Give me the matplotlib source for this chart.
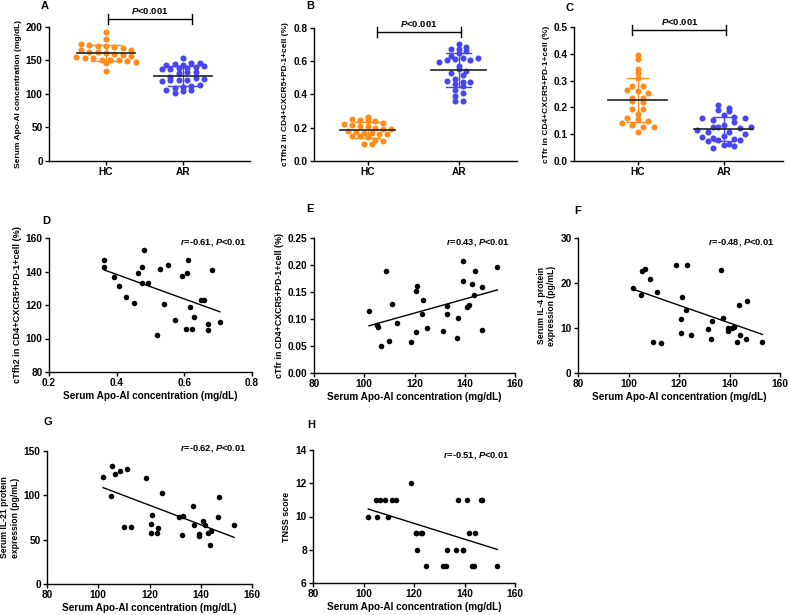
import numpy as np
import matplotlib
matplotlib.use('Agg')
import matplotlib.pyplot as plt

plt.rcParams['font.family'] = ['Liberation Sans', 'DejaVu Sans']
plt.rcParams['font.weight'] = 'bold'
plt.rcParams['axes.labelweight'] = 'bold'
plt.rcParams['mathtext.fontset'] = 'custom'
plt.rcParams['mathtext.it'] = 'Liberation Sans:italic:bold'
plt.rcParams['mathtext.rm'] = 'Liberation Sans:bold'

# ================= DATA =================
groups = ['HC', 'AR']

# serum Apo-AI (mg/dL)
apo_hc = [192, 182, 174, 173, 172, 171, 170, 168, 166, 165, 163, 162, 161,
          160, 158, 157, 155, 154, 153, 151, 150, 150, 149, 148, 147, 134]
apo_ar = [101.9, 105.0, 105.3, 106.5, 108.5, 109.9, 111.2, 112.9, 118.7, 120.6,
          121.1, 120.7, 123.3, 122.9, 124.8, 131.5, 132.9, 132.8, 137.4, 136.8,
          139.4, 139.4, 140.9, 141.6, 142.9, 144.1, 143.6, 147.0, 146.7, 153.0]

# cTfh2 (%)
tfh2_hc = [0.265, 0.25, 0.245, 0.245, 0.24, 0.23, 0.22, 0.215, 0.21, 0.21, 0.2,
           0.195, 0.19, 0.18, 0.175, 0.17, 0.17, 0.165, 0.165, 0.15, 0.15, 0.145,
           0.125, 0.12, 0.1, 0.1]
tfh2_ar = [0.363, 0.363, 0.482, 0.393, 0.407, 0.464, 0.476, 0.474, 0.492, 0.427,
           0.450, 0.528, 0.551, 0.541, 0.518, 0.572, 0.593, 0.607, 0.612, 0.618,
           0.629, 0.606, 0.622, 0.648, 0.659, 0.671, 0.671, 0.683, 0.705]
# apo values paired with tfh2_ar (panel D)
apo_d = [147.0, 142.9, 152.8, 136.9, 131.5, 139.3, 142.7, 132.9, 132.9, 125.0,
         121.0, 141.3, 143.9, 120.8, 101.9, 110.9, 137.5, 138.9, 146.7, 118.8,
         112.8, 105.5, 105.9, 123.2, 122.8, 108.7, 104.9, 140.7, 110.1]

# cTfr (%)
tfr_hc = [0.395, 0.38, 0.345, 0.33, 0.31, 0.28, 0.28, 0.265, 0.26, 0.255, 0.235,
          0.235, 0.225, 0.22, 0.195, 0.195, 0.175, 0.16, 0.155, 0.15, 0.14, 0.135,
          0.125, 0.125, 0.11]
tfr_ar = [0.114, 0.0895, 0.0858, 0.050, 0.189, 0.059, 0.128, 0.093, 0.057, 0.076,
          0.161, 0.152, 0.135, 0.110, 0.083, 0.078, 0.125, 0.110, 0.101, 0.064,
          0.208, 0.170, 0.122, 0.126, 0.165, 0.188, 0.144, 0.159, 0.080, 0.197]

# AR patients, paired with apo_ar
il4_ar = [18.9, 17.4, 22.6, 23.1, 21.0, 7.0, 18.0, 6.7, 23.9, 9.0,
          17.0, 12.0, 23.9, 14.1, 8.5, 9.8, 11.5, 7.6, 12.3, 23.0,
          9.3, 10.1, 10.0, 10.3, 6.8, 8.4, 15.1, 16.0, 7.5, 7.0]
il21_ar = [121, 99, 133, 124, 128, 64, 130, 64, 119, 57,
           78, 68, 63, 58, 103, 76, 77, 55, 66, 88,
           56, 54, 71, 66, 57, 60, 44, 98, 76, 67]
tnss_ar = [10, 11, 10, 11, 11, 10, 11, 11, 12, 9,
           8, 9, 9, 9, 7, 7, 8, 7, 11, 8,
           8, 8, 11, 9, 7, 9, 7, 11, 11, 7]

notes = {'D': '$r$=-0.61, $P$<0.01', 'E': '$r$=0.43, $P$<0.01',
         'F': '$r$=-0.48, $P$<0.01', 'G': '$r$=-0.62, $P$<0.01',
         'H': '$r$=-0.51, $P$<0.01'}

ORANGE = '#FF8C1A'
BLUE = '#4545F2'
W, H = 789, 615


def px_axes(fig, l, r, t, b):
    return fig.add_axes([l / W, 1 - b / H, (r - l) / W, (b - t) / H])


def style(ax):
    for s in ['top', 'right']:
        ax.spines[s].set_visible(False)
    for s in ['left', 'bottom']:
        ax.spines[s].set_linewidth(1.0)
    ax.tick_params(direction='out', length=3, width=1, labelsize=7.3, pad=1.5)


def swarm_x(vals, center, bin_h, dx):
    vals = np.asarray(vals, float)
    xs = np.full(len(vals), float(center))
    rows = np.round((vals - vals.min()) / bin_h)
    for r in np.unique(rows):
        idx = np.where(rows == r)[0]
        n = len(idx)
        xs[idx] = center + (np.arange(n) - (n - 1) / 2) * dx
    return xs


def dot_panel(ax, data, xlim, ylim, yticks, bin_h, dx, mean_hw, cap_hw,
              ylabel, br_x, br_y, br_h):
    for i, (vals, col) in enumerate(zip(data, [ORANGE, BLUE])):
        v = np.asarray(vals, float)
        ax.scatter(swarm_x(v, i, bin_h, dx), v, s=19, color=col, lw=0,
                   zorder=2, clip_on=False)
        m, sd = v.mean(), v.std(ddof=1)
        ax.plot([i, i], [m - sd, m + sd], color=col, lw=1, zorder=3)
        ax.plot([i - cap_hw, i + cap_hw], [m + sd] * 2, color=col, lw=1, zorder=3)
        ax.plot([i - cap_hw, i + cap_hw], [m - sd] * 2, color=col, lw=1, zorder=3)
        ax.plot([i - mean_hw, i + mean_hw], [m, m], color='#222222', lw=1.2, zorder=4)
    ax.set_xlim(*xlim)
    ax.set_ylim(*ylim)
    ax.set_yticks(yticks)
    ax.set_xticks([0, 1])
    ax.set_xticklabels(groups, fontsize=8)
    ax.set_ylabel(ylabel, fontsize=6, labelpad=3)
    # significance bracket
    ax.plot(br_x, [br_y, br_y], color='black', lw=1, clip_on=False)
    for xb in br_x:
        ax.plot([xb, xb], [br_y - br_h, br_y + br_h], color='black', lw=1, clip_on=False)
    ax.text(np.mean(br_x), br_y + br_h * 0.6, '$P$<0.001', ha='center', va='bottom',
            fontsize=6.8)
    style(ax)


def corr_panel(ax, x, y, xlim, ylim, xticks, yticks, ylabel, note, note_y, ylab_fs=6.4):
    x = np.asarray(x, float)
    y = np.asarray(y, float)
    ax.scatter(x, y, s=16, color='black', lw=0, zorder=3, clip_on=False)
    k, b = np.polyfit(x, y, 1)
    xx = np.array([x.min(), x.max()])
    ax.plot(xx, k * xx + b, color='black', lw=1)
    ax.set_xlim(*xlim)
    ax.set_ylim(*ylim)
    ax.set_xticks(xticks)
    ax.set_yticks(yticks)
    ax.set_xlabel('Serum Apo-AI concentration (mg/dL)', fontsize=7.2, labelpad=2)
    ax.set_ylabel(ylabel, fontsize=ylab_fs, labelpad=3)
    ax.text(0.975, note_y, note, transform=ax.transAxes, ha='right', va='center',
            fontsize=6.7)
    style(ax)


fig = plt.figure(figsize=(7.89, 6.15), dpi=100)

axA = px_axes(fig, 49, 250, 27, 161)
dot_panel(axA, [apo_hc, apo_ar], (-0.74, 1.87), (0, 200), [0, 50, 100, 150, 200],
          9, 0.11, 0.375, 0.19, 'Serum Apo-AI concentration (mg/dL)',
          [0.02, 1.12], 212, 7)

axB = px_axes(fig, 314, 517, 28, 161)
dot_panel(axB, [tfh2_hc, tfh2_ar], (-0.59, 1.64), (0, 0.8), [0, 0.2, 0.4, 0.6, 0.8],
          0.035, 0.085, 0.3, 0.14, 'cTfh2 in CD4+CXCR5+PD-1+cell (%)',
          [0.1, 1.02], 0.776, 0.03)
axB.set_yticklabels(['0.0', '0.2', '0.4', '0.6', '0.8'])

axC = px_axes(fig, 574, 783, 27, 161)
dot_panel(axC, [tfr_hc, tfr_ar], (-0.74, 1.69), (0, 0.5), [0, 0.1, 0.2, 0.3, 0.4, 0.5],
          0.022, 0.125, 0.34, 0.12, 'cTfr in CD4+CXCR5+PD-1+cell (%)',
          [-0.06, 1.03], 0.489, 0.019)
axC.set_yticklabels(['0.0', '0.1', '0.2', '0.3', '0.4', '0.5'])

axD = px_axes(fig, 49, 252, 238, 372)
corr_panel(axD, tfh2_ar, apo_d, (0.2, 0.8), (80, 160), [0.2, 0.4, 0.6, 0.8],
           [80, 100, 120, 140, 160], 'cTfh2 in CD4+CXCR5+PD-1+cell (%)', notes['D'], 0.97,
           6.6)

axE = px_axes(fig, 314, 515, 238, 373)
corr_panel(axE, apo_ar, tfr_ar, (80, 160), (0, 0.25), [80, 100, 120, 140, 160],
           [0, 0.05, 0.10, 0.15, 0.20, 0.25], 'cTfr in CD4+CXCR5+PD-1+cell (%)',
           notes['E'], 0.97)
axE.set_yticklabels(['0.00', '0.05', '0.10', '0.15', '0.20', '0.25'])

axF = px_axes(fig, 578, 780, 238, 373)
corr_panel(axF, apo_ar, il4_ar, (80, 160), (0, 30), [80, 100, 120, 140, 160],
           [0, 10, 20, 30], 'Serum IL-4 protein\nexpression (pg/mL)', notes['F'], 0.97,
           6.2)

axG = px_axes(fig, 47, 252, 451, 584)
corr_panel(axG, apo_ar, il21_ar, (80, 160), (0, 150), [80, 100, 120, 140, 160],
           [0, 50, 100, 150], 'Serum IL-21 protein\nexpression (pg/mL)', notes['G'], 1.02,
           6.2)

axH = px_axes(fig, 313, 515, 450, 583)
corr_panel(axH, apo_ar, tnss_ar, (80, 160), (6, 14), [80, 100, 120, 140, 160],
           [6, 8, 10, 12, 14], 'TNSS score', notes['H'], 0.96)

# panel letters
for lab, (px, py) in {'A': (45, 6), 'B': (310, 6), 'C': (570, 8), 'D': (46, 221),
                      'E': (310, 209), 'F': (578, 211), 'G': (48, 422),
                      'H': (311, 425)}.items():
    fig.text(px / W, 1 - py / H, lab, fontsize=8, fontweight='bold',
             ha='center', va='center')

plt.savefig('out.png', dpi=100)
plt.close()
